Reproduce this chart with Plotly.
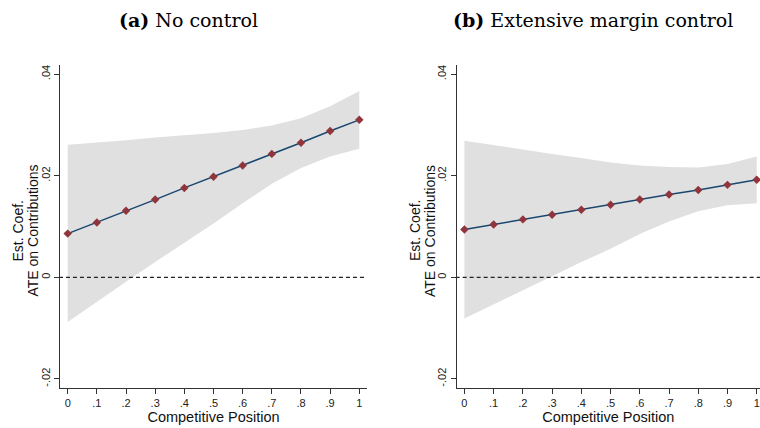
import plotly.graph_objects as go

# ---- data ----
positions = [0, 0.1, 0.2, 0.3, 0.4, 0.5, 0.6, 0.7, 0.8, 0.9, 1.0]

est_a = [0.0086, 0.0108, 0.0131, 0.0153, 0.0176, 0.0198, 0.0220, 0.0243, 0.0265, 0.0288, 0.0310]
upper_a = [0.0261, 0.0265, 0.0270, 0.0275, 0.0279, 0.0284, 0.0290, 0.0299, 0.0313, 0.0337, 0.0367]
lower_a = [-0.0088, -0.0048, -0.0009, 0.0030, 0.0068, 0.0106, 0.0146, 0.0184, 0.0215, 0.0238, 0.0253]

est_b = [0.0094, 0.0104, 0.0114, 0.0123, 0.0133, 0.0143, 0.0153, 0.0163, 0.0172, 0.0182, 0.0192]
upper_b = [0.0269, 0.0260, 0.0252, 0.0243, 0.0235, 0.0226, 0.0220, 0.0217, 0.0216, 0.0223, 0.0238]
lower_b = [-0.0081, -0.0053, -0.0025, 0.0003, 0.0030, 0.0056, 0.0085, 0.0110, 0.0130, 0.0142, 0.0146]

x_ticks = [0, 0.1, 0.2, 0.3, 0.4, 0.5, 0.6, 0.7, 0.8, 0.9, 1.0]
x_tick_labels = ["0", ".1", ".2", ".3", ".4", ".5", ".6", ".7", ".8", ".9", "1"]
y_ticks = [-0.02, 0, 0.02, 0.04]
y_tick_labels = ["-.02", "0", ".02", ".04"]

titles = ["<b>(a)</b> No control", "<b>(b)</b> Extensive margin control"]
x_title = "Competitive Position"
y_title_lines = ["Est. Coef.", "ATE on Contributions"]

W, H = 760, 428
FILL = "#e0e0e0"
LINE = "#1a476f"
MARK = "#90353b"
AXC = "#333333"

fig = go.Figure()

panels = [
    ("x", "y", est_a, upper_a, lower_a),
    ("x2", "y2", est_b, upper_b, lower_b),
]
for xa, ya, est, up, lo in panels:
    fig.add_trace(go.Scatter(x=positions, y=up, xaxis=xa, yaxis=ya, mode="lines",
                             line=dict(width=0, color=FILL), showlegend=False, hoverinfo="skip"))
    fig.add_trace(go.Scatter(x=positions, y=lo, xaxis=xa, yaxis=ya, mode="lines",
                             line=dict(width=0, color=FILL), fill="tonexty", fillcolor=FILL,
                             showlegend=False, hoverinfo="skip"))
    fig.add_trace(go.Scatter(x=[-0.03, 1.05], y=[0, 0], xaxis=xa, yaxis=ya, mode="lines",
                             line=dict(color="#222222", width=1.2, dash="4px,3px"),
                             showlegend=False, hoverinfo="skip"))
    fig.add_trace(go.Scatter(x=positions, y=est, xaxis=xa, yaxis=ya, mode="lines+markers",
                             line=dict(color=LINE, width=1.5),
                             marker=dict(symbol="diamond", size=6.5, color=MARK),
                             showlegend=False))

yrange = [-0.0218, 0.0418]
ydom = [(H - 388) / H, (H - 65) / H]

FONT = "Liberation Sans, Arial"
axis_common = dict(showline=True, linecolor=AXC, linewidth=1.2, ticks="outside",
                   ticklen=5, tickcolor=AXC, showgrid=False, zeroline=False,
                   tickfont=dict(family=FONT, size=11, color="#222222"))
title_font = dict(family=FONT, size=14.5, color="#111111")
ytitle_font = dict(family=FONT, size=14, color="#111111")

fig.update_layout(
    width=W, height=H,
    margin=dict(l=0, r=0, t=0, b=0),
    paper_bgcolor="white", plot_bgcolor="white",
    xaxis=dict(domain=[60 / W, 367 / W], range=[-0.0264, 1.0264],
               tickvals=x_ticks, ticktext=x_tick_labels,
               title=dict(text=x_title, standoff=0, font=title_font),
               anchor="y", **axis_common),
    yaxis=dict(domain=ydom, range=yrange, tickvals=y_ticks, ticktext=y_tick_labels,
               tickangle=-90, anchor="x", **axis_common),
    xaxis2=dict(domain=[456.7 / W, 1.0], range=[-0.0264, 1.0113],
                tickvals=x_ticks, ticktext=x_tick_labels,
                title=dict(text=x_title, standoff=0, font=title_font),
                anchor="y2", **axis_common),
    yaxis2=dict(domain=ydom, range=yrange, tickvals=y_ticks, ticktext=y_tick_labels,
                tickangle=-90, anchor="x2", **axis_common),
)

# y-axis titles (two rotated lines)
for x_est, x_ate in [(17.5, 32.5), (415, 430)]:
    for cx, txt in zip([x_est, x_ate], y_title_lines):
        fig.add_annotation(x=cx / W, y=1 - 231 / H, xref="paper", yref="paper",
                           text=txt, showarrow=False, textangle=-90,
                           xanchor="center", yanchor="middle", font=ytitle_font)

for cx, t in zip([188, 593], titles):
    fig.add_annotation(x=cx / W, y=1 - 20 / H, xref="paper", yref="paper",
                       text=t, showarrow=False, xanchor="center", yanchor="middle",
                       font=dict(family="DejaVu Serif, serif", size=19, color="black"))

fig.write_html("out.html")
